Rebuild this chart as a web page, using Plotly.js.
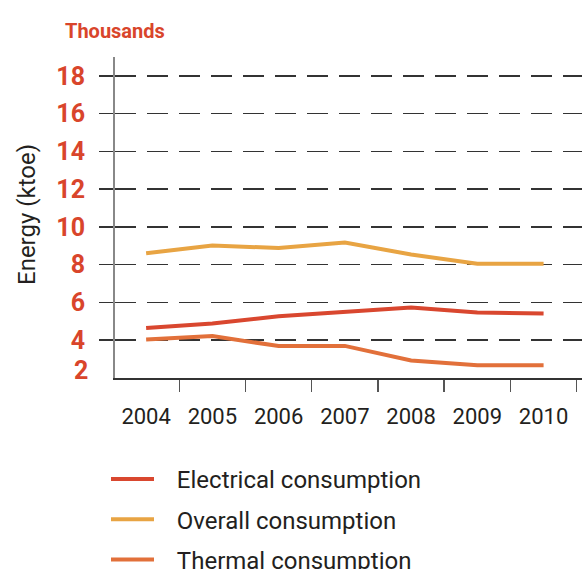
<!DOCTYPE html>
<html>
<head>
<meta charset="utf-8">
<script src="https://cdn.plot.ly/plotly-3.0.1.min.js"></script>
<style>html,body{margin:0;padding:0;background:#fff;}#chart{width:582px;height:569px;}</style>
</head>
<body>
<div id="chart"></div>
<script>
const years = ['2004','2005','2006','2007','2008','2009','2010'];
const electrical = [4.65, 4.89, 5.27, 5.50, 5.73, 5.47, 5.41];
const overall = [8.61, 9.02, 8.88, 9.18, 8.54, 8.05, 8.05];
const thermal = [4.04, 4.22, 3.69, 3.70, 2.93, 2.67, 2.67];
const yTickVals = [4, 6, 8, 10, 12, 14, 16, 18];
const yTickText = ['4', '6', '8', '10', '12', '14', '16', '18'];
const bottomTick = 2;
const yTitle = 'Energy (ktoe)';
const unitLabel = 'Thousands';
const seriesNames = ['Electrical consumption', 'Overall consumption', 'Thermal consumption'];
const colors = ['#d9472f', '#e8a443', '#e2703a'];

const red = '#d9452b';
const pad = '\u00a0\u00a0\u00a0';
const series = [electrical, overall, thermal];
const traces = series.map((vals, i) => ({
  x: years, y: vals, type: 'scatter', mode: 'lines',
  name: pad + seriesNames[i], legendgroup: 'g' + i,
  line: {color: colors[i], width: 4}
}));

const layout = {
  width: 582, height: 569,
  margin: {l: 115, r: 0, t: 57, b: 191, autoexpand: false},
  paper_bgcolor: '#fff', plot_bgcolor: '#fff',
  font: {family: 'Roboto, sans-serif', color: '#231f20'},
  showlegend: true,
  xaxis: {
    type: 'category', range: [-0.47, 6.58], automargin: false,
    tickson: 'boundaries', ticks: 'outside', ticklen: 12, tickwidth: 1.5, tickcolor: '#555',
    showgrid: false, showline: true, linecolor: '#333', linewidth: 1.5,
    tickfont: {size: 22, color: '#231f20'}, ticklabelstandoff: 18, tickangle: 0,
    zeroline: false, fixedrange: true
  },
  yaxis: {
    range: [2, 19], tickvals: yTickVals, ticktext: yTickText, automargin: false,
    ticks: 'outside', ticklen: 14, tickwidth: 1.5, tickcolor: '#333',
    showgrid: true, gridcolor: '#333', gridwidth: 1.5, griddash: '21px,11px',
    showline: true, linecolor: '#888', linewidth: 2, zeroline: false,
    tickfont: {size: 25, color: red, family: 'Roboto, sans-serif', weight: 'bold'},
    ticklabelstandoff: 9,
    fixedrange: true
  },
  legend: {
    orientation: 'v', xref: 'container', yref: 'container',
    x: 106 / 582, y: 1 - 457 / 569, xanchor: 'left', yanchor: 'top',
    font: {size: 24, color: '#231f20'}, tracegroupgap: 6, itemwidth: 43,
    bgcolor: 'rgba(0,0,0,0)'
  },
  annotations: [
    {text: unitLabel, xref: 'paper', yref: 'paper', x: 0, y: 1 + 26 / 321,
     xanchor: 'center', yanchor: 'middle', showarrow: false,
     font: {size: 20, color: red, weight: 'bold'}},
    {text: yTitle, xref: 'paper', yref: 'paper', x: -88 / 467, y: 163 / 321,
     xanchor: 'center', yanchor: 'middle', textangle: -90, showarrow: false,
     font: {size: 24, color: '#231f20'}},
    {text: String(bottomTick), xref: 'paper', yref: 'y', x: 0, y: bottomTick,
     xanchor: 'right', yanchor: 'middle', xshift: -25, yshift: 8, showarrow: false,
     font: {size: 25, color: red, weight: 'bold'}}
  ]
};

Plotly.newPlot('chart', traces, layout, {displayModeBar: false, staticPlot: true});
</script>
</body>
</html>
